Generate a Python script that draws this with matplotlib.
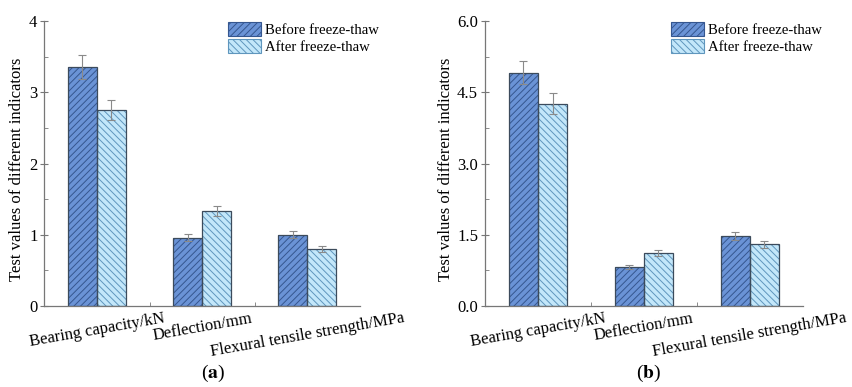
import matplotlib.pyplot as plt
import matplotlib as mpl
import numpy as np

mpl.rcParams['font.family'] = ['Liberation Serif', 'DejaVu Serif']
mpl.rcParams['hatch.linewidth'] = 0.7

categories = ['Bearing capacity/kN', 'Deflection/mm', 'Flexural tensile strength/MPa']
series_names = ['Before freeze-thaw', 'After freeze-thaw']

# panel (a)
before_a = [3.35, 0.96, 1.00]
after_a = [2.75, 1.34, 0.80]
before_a_err = [0.17, 0.05, 0.05]
after_a_err = [0.14, 0.07, 0.04]

# panel (b)
before_b = [4.91, 0.82, 1.48]
after_b = [4.26, 1.11, 1.30]
before_b_err = [0.24, 0.04, 0.08]
after_b_err = [0.22, 0.06, 0.07]

yticks_a = [0, 1, 2, 3, 4]
yticks_b = [0.0, 1.5, 3.0, 4.5, 6.0]

fill_colors = ['#6a93d6', '#c3e7fa']
hatch_colors = ['#35568f', '#5f96bd']
hatches = ['/////', '\\\\\\\\\\']

fig = plt.figure(figsize=(8.53, 3.87), dpi=100)
ax1 = fig.add_axes([0.052, 0.209, 0.370, 0.737])
ax2 = fig.add_axes([0.5686, 0.209, 0.3725, 0.737])

x = np.arange(1, len(categories) + 1)
w = 0.275


def draw_panel(ax, before, after, b_err, a_err, yticks, fmt):
    for i, (vals, errs) in enumerate([(before, b_err), (after, a_err)]):
        pos = x + (i - 0.5) * w
        ax.bar(pos, vals, width=w, color=fill_colors[i], edgecolor=hatch_colors[i],
               hatch=hatches[i], linewidth=0, label=series_names[i], zorder=2)
        # outline drawn separately so the hatch can keep its own colour
        ax.bar(pos, vals, width=w, color='none', edgecolor='#3c4b5c',
               linewidth=0.9, zorder=3)
        ax.errorbar(pos, vals, yerr=errs, fmt='none', ecolor='#8a8a8a',
                    elinewidth=0.8, capsize=3, capthick=0.8, zorder=4)

    ax.set_xlim(0.5, 3.5)
    ax.set_ylim(yticks[0], yticks[-1])
    ax.set_yticks(yticks)
    ax.set_yticklabels([fmt.format(v) for v in yticks], fontsize=12)
    ax.set_yticks([(a + b) / 2 for a, b in zip(yticks[:-1], yticks[1:])], minor=True)
    ax.set_xticks(x)
    ax.set_xticklabels(categories, rotation=10, ha='center', fontsize=12)
    ax.set_xticks([1.5, 2.5], minor=True)
    ax.tick_params(axis='x', which='major', length=0, pad=3)
    ax.tick_params(axis='x', which='minor', direction='in', length=3, color='#777777')
    ax.tick_params(axis='y', which='major', direction='inout', length=6, color='#777777', pad=2)
    ax.tick_params(axis='y', which='minor', direction='in', length=3, color='#777777')
    for side in ['top', 'right']:
        ax.spines[side].set_visible(False)
    for side in ['left', 'bottom']:
        ax.spines[side].set_color('#777777')
        ax.spines[side].set_linewidth(0.9)
    ax.set_ylabel('Test values of different indicators', fontsize=12)

    handles, labels = ax.get_legend_handles_labels()
    leg = ax.legend(handles, labels, loc='upper right', bbox_to_anchor=(1.06, 0.997),
                    frameon=False, fontsize=10.6, handlelength=2.25, handleheight=1.1,
                    handletextpad=0.25, labelspacing=0.12, borderaxespad=0, borderpad=0)
    for p in leg.get_patches():
        p.set_linewidth(0.8)


draw_panel(ax1, before_a, after_a, before_a_err, after_a_err, yticks_a, '{:d}')
draw_panel(ax2, before_b, after_b, before_b_err, after_b_err, yticks_b, '{:.1f}')

ax1.yaxis.set_label_coords(-0.06, 0.48)
ax2.yaxis.set_label_coords(-0.098, 0.48)

fig.text(0.250, 0.036, r'($\mathbf{a}$)', ha='center', va='center', fontsize=14,
         math_fontfamily='stix')
fig.text(0.760, 0.036, r'($\mathbf{b}$)', ha='center', va='center', fontsize=14,
         math_fontfamily='stix')

fig.savefig('out.png', dpi=100)
